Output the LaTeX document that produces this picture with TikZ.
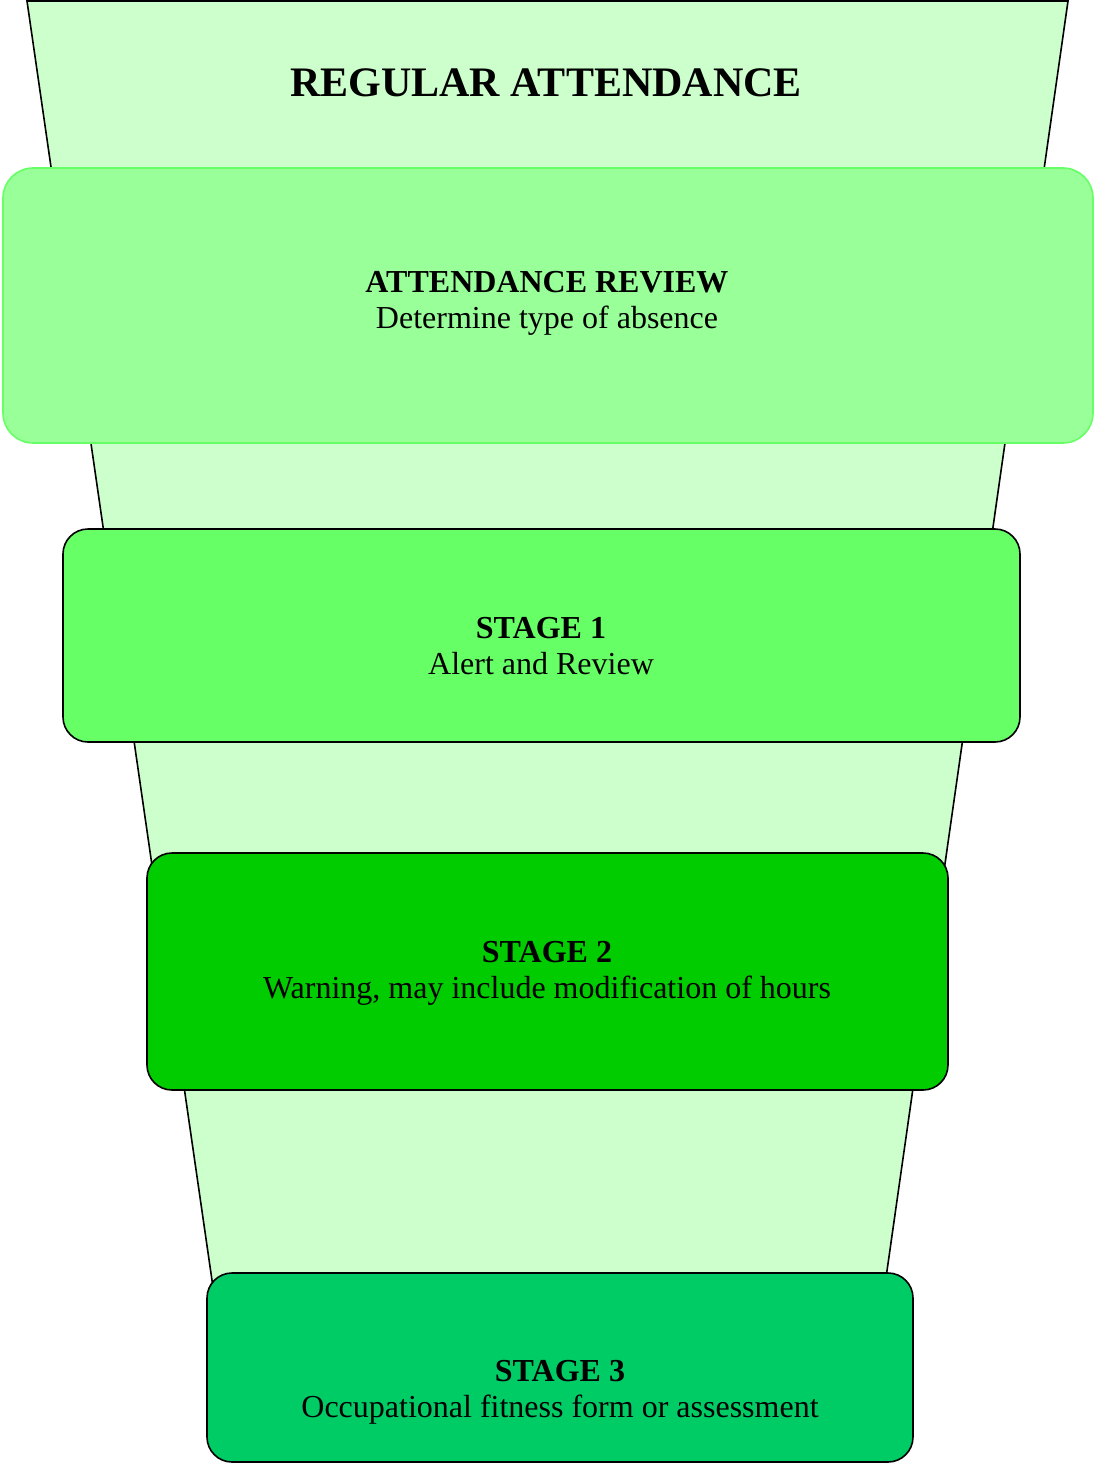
\documentclass[tikz,border=0pt]{standalone}
\usepackage{fontspec}
\setmainfont{Liberation Serif}
\definecolor{funnel}{HTML}{CCFFCC}
\definecolor{revfill}{HTML}{99FF99}
\definecolor{revline}{HTML}{66FF66}
\definecolor{s1fill}{HTML}{66FF66}
\definecolor{s2fill}{HTML}{00CC00}
\definecolor{s3fill}{HTML}{00CC66}
\begin{document}
\begin{tikzpicture}[x=1pt,y=-1pt,
  stagebox/.style={draw=black,line width=1.6pt,rounded corners=25pt,inner sep=0pt},
  boldtxt/.style={font=\fontsize{32}{37}\selectfont\bfseries,inner sep=0pt,anchor=base},
  plaintxt/.style={font=\fontsize{32}{37}\selectfont,inner sep=0pt,anchor=base}]
\useasboundingbox (0,0) rectangle (1094,1464);
% funnel
\coordinate (tl) at (27,1);
\coordinate (tr) at (1068,1);
\coordinate (bl) at (238,1460);
\coordinate (br) at (860,1460);
\fill[funnel] (tl) -- (tr) -- (br) -- (bl) -- cycle;
\draw[line width=1.6pt] (bl) -- (tl) -- (tr) -- (br);
\node[font=\fontsize{42}{48}\selectfont\bfseries,inner sep=0pt] (title) at (546,83) {REGULAR ATTENDANCE};
% boxes
\node[draw=revline,fill=revfill,line width=1.6pt,rounded corners=30pt,inner sep=0pt,
  minimum width=1090pt,minimum height=275pt] (review) at (548,305.5) {};
\node[stagebox,fill=s1fill,minimum width=957pt,minimum height=213pt] (stage1) at (541.5,635.5) {};
\node[stagebox,fill=s2fill,minimum width=801pt,minimum height=237pt] (stage2) at (547.5,971.5) {};
\node[stagebox,fill=s3fill,minimum width=706pt,minimum height=189pt] (stage3) at (560,1367.5) {};
% texts
\node[boldtxt] (reviewA) at (547,292) {ATTENDANCE REVIEW};
\node[plaintxt] (reviewB) at (547,328) {Determine type of absence};
\node[boldtxt] (s1A) at (541,638) {STAGE 1};
\node[plaintxt] (s1B) at (541,674) {Alert and Review};
\node[boldtxt] (s2A) at (547,962) {STAGE 2};
\node[plaintxt] (s2B) at (547,998) {Warning, may include modification of hours};
\node[boldtxt] (s3A) at (560,1381) {STAGE 3};
\node[plaintxt] (s3B) at (560,1417) {Occupational fitness form or assessment};
\end{tikzpicture}
\end{document}
